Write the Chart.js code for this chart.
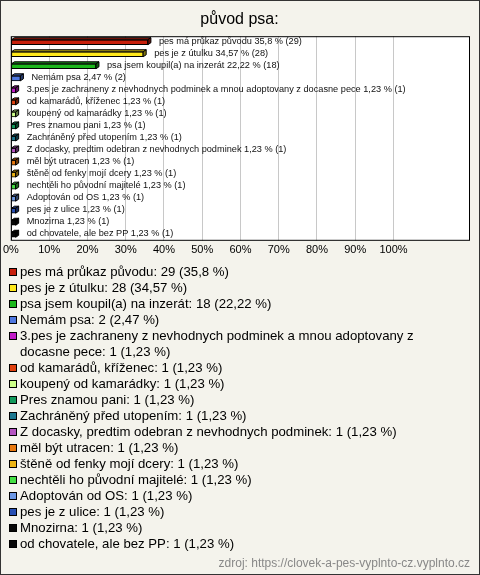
<!DOCTYPE html>
<html>
<head>
<meta charset="utf-8">
<script src="https://cdn.jsdelivr.net/npm/chart.js@4"></script>
<style>
    body { margin: 0; background: #fff; font-family: "Liberation Sans", Arial, sans-serif; }
    #frame { position: relative; width: 478px; height: 573px; border: 1px solid #333; background: #f4f3ec; overflow: hidden; }
    #chart-wrap { position: absolute; left: -1px; top: -1px; width: 480px; height: 266px; }
    #legend { position: absolute; left: 8px; top: 263px; width: 452px; font-size: 13.2px; line-height: 16px; color: #000; }
    .item { display: flex; align-items: flex-start; }
    .box { flex: none; width: 8px; height: 8px; box-sizing: border-box; border: 1px solid #000; margin: 4px 3px 0 0; }
    #source { position: absolute; right: 9px; top: 555px; font-size: 12px; color: #888; }
</style>
</head>
<body>
<div id="frame">
    <div id="chart-wrap"><canvas id="chart" width="480" height="266"></canvas></div>
    <div id="legend"></div>
    <div id="source">zdroj: https://clovek-a-pes-vyplnto-cz.vyplnto.cz</div>
</div>
<script>
'use strict';

const TITLE = 'původ psa:';
const categories = [
    'pes má průkaz původu',
    'pes je z útulku',
    'psa jsem koupil(a) na inzerát',
    'Nemám psa',
    '3.pes je zachraneny z nevhodnych podminek a mnou adoptovany z docasne pece',
    'od kamarádů, kříženec',
    'koupený od kamarádky',
    'Pres znamou pani',
    'Zachráněný před utopením',
    'Z docasky, predtim odebran z nevhodnych podminek',
    'měl být utracen',
    'štěně od fenky mojí dcery',
    'nechtěli ho původní majitelé',
    'Adoptován od OS',
    'pes je z ulice',
    'Mnozirna',
    'od chovatele, ale bez PP'
];
const counts = [29, 28, 18, 2, 1, 1, 1, 1, 1, 1, 1, 1, 1, 1, 1, 1, 1];
const percents = [35.8, 34.57, 22.22, 2.47, 1.23, 1.23, 1.23, 1.23, 1.23, 1.23, 1.23, 1.23, 1.23, 1.23, 1.23, 1.23, 1.23];
const colors = [
    '#c8200c', '#ffe81a', '#1cb81c', '#4f78e0', '#c21cc8', '#e0400e',
    '#ccff88', '#129a5c', '#1c7890', '#b454c0', '#e8780e', '#ecb414',
    '#44e044', '#6c98e4', '#2850b4', '#080808', '#080808'
];
const xTicks = [0, 10, 20, 30, 40, 50, 60, 70, 80, 90, 100];

function fmt(p) {
    return String(p).replace('.', ',');
}

function darken(hex, k) {
    const n = parseInt(hex.slice(1), 16);
    const r = Math.round(((n >> 16) & 255) * k);
    const g = Math.round(((n >> 8) & 255) * k);
    const b = Math.round((n & 255) * k);
    return `rgb(${r},${g},${b})`;
}

// white plot box, border on top
const plotBox = {
    id: 'plotBox',
    beforeDraw(chart) {
        const a = chart.chartArea;
        chart.ctx.save();
        chart.ctx.fillStyle = '#fff';
        chart.ctx.fillRect(a.left, a.top, a.right - a.left, a.bottom - a.top);
        chart.ctx.restore();
    },
    afterDraw(chart) {
        const a = chart.chartArea;
        const ctx = chart.ctx;
        ctx.save();
        ctx.strokeStyle = '#000';
        ctx.lineWidth = 1;
        ctx.strokeRect(a.left + 0.5, a.top + 0.5, a.right - a.left - 1, a.bottom - a.top - 1);
        ctx.restore();
    }
};

// fake 3d faces on bars + text labels after them
const bar3d = {
    id: 'bar3d',
    afterDatasetsDraw(chart) {
        const ctx = chart.ctx;
        const dx = 3, dy = 2;
        ctx.save();
        ctx.lineWidth = 1;
        ctx.strokeStyle = '#000';
        chart.getDatasetMeta(0).data.forEach((bar, i) => {
            const top = bar.y - bar.height / 2;
            const bot = bar.y + bar.height / 2;
            ctx.fillStyle = darken(colors[i], 0.7);
            ctx.beginPath();
            ctx.moveTo(bar.base, top);
            ctx.lineTo(bar.base + dx, top - dy);
            ctx.lineTo(bar.x + dx, top - dy);
            ctx.lineTo(bar.x, top);
            ctx.closePath();
            ctx.fill();
            ctx.stroke();
            ctx.fillStyle = darken(colors[i], 0.5);
            ctx.beginPath();
            ctx.moveTo(bar.x, top);
            ctx.lineTo(bar.x + dx, top - dy);
            ctx.lineTo(bar.x + dx, bot - dy);
            ctx.lineTo(bar.x, bot);
            ctx.closePath();
            ctx.fill();
            ctx.stroke();

            ctx.fillStyle = '#111';
            ctx.font = '9.2px "Liberation Sans", Arial, sans-serif';
            ctx.textBaseline = 'middle';
            ctx.fillText(`${categories[i]} ${fmt(percents[i])} % (${counts[i]})`, bar.x + dx + 8, bar.y - 1);
        });
        ctx.restore();
    }
};

Chart.defaults.font.family = '"Liberation Sans", Arial, sans-serif';

new Chart(document.getElementById('chart'), {
    type: 'bar',
    data: {
        labels: categories,
        datasets: [{
            data: percents,
            backgroundColor: colors,
            borderColor: '#000',
            borderWidth: 1,
            borderSkipped: false,
            barThickness: 5
        }]
    },
    options: {
        indexAxis: 'y',
        responsive: false,
        animation: false,
        devicePixelRatio: 1,
        layout: { padding: { left: 9, right: 10, bottom: 6 } },
        plugins: {
            legend: { display: false },
            tooltip: { enabled: false },
            title: {
                display: true,
                text: TITLE,
                color: '#000',
                font: { size: 16, weight: 'normal' },
                padding: { top: 10, bottom: 7 }
            }
        },
        scales: {
            x: {
                min: 0,
                max: 120,
                afterBuildTicks: axis => { axis.ticks = xTicks.map(v => ({ value: v })); },
                ticks: {
                    color: '#000',
                    font: { size: 11 },
                    padding: 3,
                    maxRotation: 0,
                    callback: v => v + '%'
                },
                grid: { color: '#c8c8c8', drawTicks: false },
                border: { display: false }
            },
            y: { display: false }
        }
    },
    plugins: [plotBox, bar3d]
});

// legend in html so the long item wraps
const legend = document.getElementById('legend');
categories.forEach((name, i) => {
    const row = document.createElement('div');
    row.className = 'item';
    row.innerHTML = `<span class="box" style="background:${colors[i]}"></span><span>${name}: ${counts[i]} (${fmt(percents[i])} %)</span>`;
    legend.appendChild(row);
});
</script>
</body>
</html>
